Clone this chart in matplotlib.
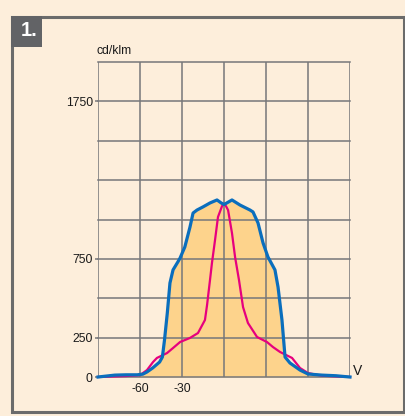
"""Luminous intensity distribution (cd/klm) of two beam types."""

from matplotlib import pyplot
from matplotlib.patches import Rectangle


blue_angle = [-90, -85, -78, -70, -62, -58, -55, -51, -46, -44, -42.5,
              -40.5, -38.6, -36.4, -33, -31.4, -28, -24.3, -22.1, -19.3,
              -15, -10, -5, -2, 0, 2, 5.7, 11.4, 18.6, 20.7, 24.3, 27.9,
              31.4, 36.4, 38.6, 41.4, 43.6, 47.1, 54.3, 60, 70, 80, 86, 90]
blue_cd = [0, 5, 12, 14, 14, 18, 32, 57, 95, 127, 235,
           406, 597, 680, 730, 755, 825, 952, 1041, 1060,
           1080, 1105, 1124, 1105, 1095, 1105, 1124, 1092, 1060, 1048, 978,
           851, 762, 680, 571, 362, 127, 89, 44, 19, 12, 8, 3, 0]

# Narrow beam.
pink_angle = [-90, -80, -70, -60, -55, -50.7, -47.9, -40.7, -36.4, -31.4,
              -24.3, -18.6, -13.6, -12.1, -10, -8.6, -6.4, -4.3, -1.4, 0,
              1.4, 2.9, 5.7, 7.9, 10.7, 13.6, 17.1, 23.6, 30.7, 35, 40,
              48.6, 54.3, 60, 70, 80, 90]
pink_cd = [0, 3, 6, 12, 44, 95, 121, 152, 184, 222,
           248, 279, 362, 457, 616, 724, 870, 1016, 1085, 1100,
           1085, 1060, 914, 762, 616, 444, 343, 254, 222, 190, 159,
           121, 57, 25, 8, 4, 0]

y_ticks = [0, 250, 750, 1750]
x_ticks = [-60, -30]

background = '#fdeedb'
fill_color = '#fdd38c'
grid_color = '#76777a'

pyplot.rc('font', family='Liberation Sans', size=8.7)
fig = pyplot.figure(figsize=(4.06, 4.16), dpi=100, facecolor=background)

# Outer frame and number tag.
W, H = 406, 416
fig.patches.append(Rectangle((12.5 / W, 1 - 411.5 / H), 392 / W, 394.5 / H,
                             transform=fig.transFigure, fill=False,
                             edgecolor='#6b6b6b', linewidth=2.2))
fig.patches.append(Rectangle((11 / W, 1 - 47 / H), 31 / W, 31 / H,
                             transform=fig.transFigure, facecolor='#626366',
                             edgecolor='none'))
fig.text(29.5 / W, 1 - 30 / H, '1.', color='white', fontsize=14.5,
         fontweight='bold', ha='center', va='center')

ax = fig.add_axes([98 / W, 39 / H, 252 / W, 315 / H])
ax.set_facecolor(background)
ax.set_xlim(-90, 90)
ax.set_ylim(0, 2000)

ax.fill_between(blue_angle, blue_cd, 0, color=fill_color, linewidth=0,
                zorder=1)

# Grid every 30 degrees and every 250 cd/klm.
for xv in range(-90, 91, 30):
    ax.axvline(xv, color=grid_color, linewidth=1.1, zorder=2)
for yv in range(0, 2001, 250):
    ax.axhline(yv, color=grid_color, linewidth=1.1, zorder=2, clip_on=False)

ax.plot(pink_angle, pink_cd, color='#e6007e', linewidth=1.6, zorder=3,
        clip_on=False, solid_joinstyle='round')
ax.plot(blue_angle, blue_cd, color='#0a6ebd', linewidth=2.3, zorder=4,
        clip_on=False, solid_joinstyle='round')

for side in ax.spines.values():
    side.set_visible(False)

ax.set_yticks(y_ticks)
ax.set_yticklabels([str(v) for v in y_ticks])
ax.set_xticks(x_ticks)
ax.set_xticklabels([str(v) for v in x_ticks])
ax.tick_params(axis='y', length=2.2, width=1.1, color=grid_color, pad=1.5,
               labelcolor='#1a1a1a')
ax.tick_params(axis='x', length=0, pad=4, labelcolor='#1a1a1a')

ax.annotate('cd/klm', xy=(0, 1), xycoords='axes fraction',
            xytext=(-1, 3.5), textcoords='offset points',
            ha='left', va='bottom', color='#1a1a1a')
ax.annotate('V', xy=(1, 0), xycoords='axes fraction',
            xytext=(2, -0.5), textcoords='offset points',
            ha='left', va='bottom', color='#1a1a1a', fontsize=10)

fig.savefig('out.png', dpi=100, facecolor=background)
